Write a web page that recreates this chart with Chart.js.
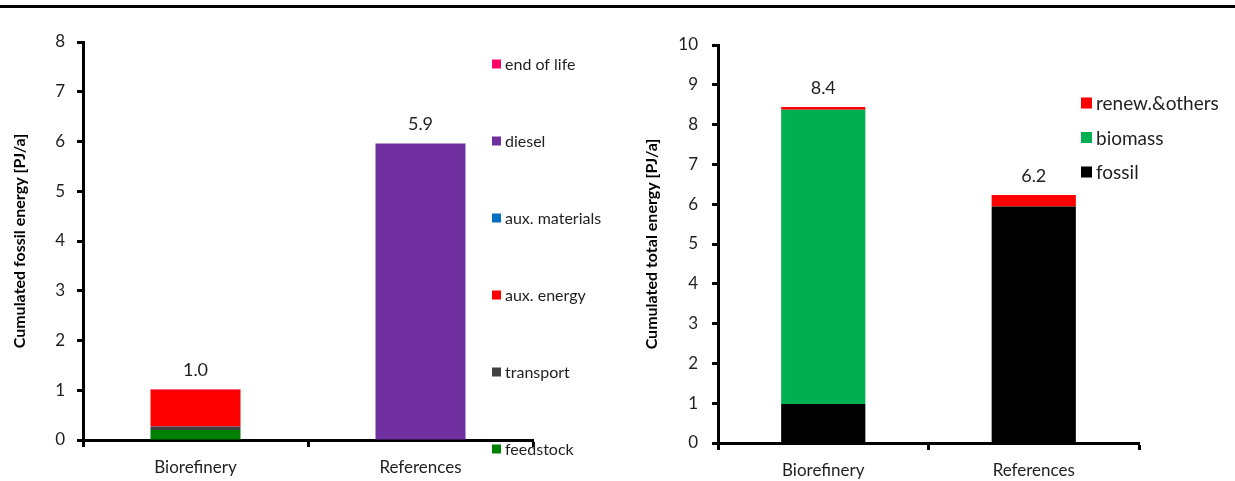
<!DOCTYPE html>
<html>
<head>
<meta charset="utf-8">
<script src="https://cdn.jsdelivr.net/npm/chart.js@4.4.1/dist/chart.umd.min.js"></script>
<style>
  body { margin: 0; background: #fff; width: 1235px; height: 481px; overflow: hidden; position: relative; }
  .rule { position: absolute; left: 0; top: 5px; width: 1235px; height: 3px; background: #000; }
  .box { position: absolute; top: 0; height: 481px; }
  #leftBox { left: 0; width: 620px; }
  #rightBox { left: 620px; width: 615px; }
</style>
</head>
<body>
<div class="rule"></div>
<div class="box" id="leftBox"><canvas id="fossilChart"></canvas></div>
<div class="box" id="rightBox"><canvas id="totalChart"></canvas></div>
<script>
const categories = ['Biorefinery', 'References'];

// left chart: cumulated fossil energy [PJ/a]
const feedstock = [0.20, 0];
const transport = [0.07, 0];
const auxEnergy = [0.74, 0];
const auxMaterials = [0, 0];
const diesel = [0, 5.96];
const endOfLife = [0.01, 0];
const fossilTotals = ['1.0', '5.9'];
const fossilTicks = [0, 1, 2, 3, 4, 5, 6, 7, 8];

// right chart: cumulated total energy [PJ/a]
const fossil = [0.98, 5.94];
const biomass = [7.39, 0];
const renewOthers = [0.07, 0.29];
const totalTotals = ['8.4', '6.2'];
const totalTicks = [0, 1, 2, 3, 4, 5, 6, 7, 8, 9, 10];

const FONT = 'Lato, "Liberation Sans", sans-serif';
const TEXT = '#1f1f1f';

Chart.defaults.font.family = FONT;
Chart.defaults.color = TEXT;
Chart.defaults.animation = false;

// legend drawn at free positions, top item = last dataset
const sideLegend = {
    id: 'sideLegend',
    afterDraw(chart, args, opts) {
        const ctx = chart.ctx;
        const sets = chart.data.datasets.slice().reverse();
        ctx.save();
        ctx.font = opts.size + 'px ' + FONT;
        ctx.textBaseline = 'middle';
        ctx.textAlign = 'left';
        sets.forEach((ds, i) => {
            const y = opts.y + i * opts.gap;
            ctx.fillStyle = ds.backgroundColor;
            ctx.fillRect(opts.x, y - opts.box / 2, opts.box, opts.box);
            ctx.fillStyle = TEXT;
            ctx.fillText(ds.label, opts.x + opts.box + 4, y + 1);
        });
        ctx.restore();
    }
};

// total value above each stacked bar
const stackTotals = {
    id: 'stackTotals',
    afterDatasetsDraw(chart, args, opts) {
        const ctx = chart.ctx;
        const xs = chart.scales.x, ys = chart.scales.y;
        ctx.save();
        ctx.font = opts.size + 'px ' + FONT;
        ctx.fillStyle = TEXT;
        ctx.textAlign = 'center';
        ctx.textBaseline = 'bottom';
        chart.data.labels.forEach((lab, i) => {
            let sum = 0;
            chart.data.datasets.forEach(ds => { sum += ds.data[i]; });
            const x = xs.getPixelForValue(i);
            const y = ys.getPixelForValue(sum);
            ctx.fillText(opts.labels[i], x, y - 10);
        });
        ctx.restore();
    }
};

function makeOptions(cfg) {
    return {
        responsive: true,
        maintainAspectRatio: false,
        layout: { padding: { left: 0, top: cfg.top, right: cfg.right, bottom: 0 } },
        datasets: { bar: { categoryPercentage: 1, barPercentage: 0.4, borderWidth: 0 } },
        plugins: {
            legend: { display: false },
            tooltip: { enabled: false },
            sideLegend: cfg.legend,
            stackTotals: { labels: cfg.totals, size: 18 }
        },
        scales: {
            x: {
                stacked: true,
                afterFit: s => { s.height = cfg.xHeight; },
                border: { color: '#000', width: 3 },
                grid: { display: true, drawOnChartArea: false, drawTicks: true, tickLength: 7, tickWidth: 3, tickColor: '#000', offset: true },
                ticks: { padding: 10, font: { size: 17 }, color: TEXT }
            },
            y: {
                stacked: true,
                min: 0,
                max: cfg.ticks[cfg.ticks.length - 1],
                afterFit: s => { s.width = cfg.yWidth; },
                afterBuildTicks: s => { s.ticks = cfg.ticks.map(v => ({ value: v })); },
                border: { color: '#000', width: 3 },
                grid: { display: true, drawOnChartArea: false, drawTicks: true, tickLength: 6, tickWidth: 3, tickColor: '#000' },
                ticks: { padding: cfg.tickPad, font: { size: 17 }, color: TEXT },
                title: {
                    display: true,
                    text: cfg.title,
                    font: { size: 16, weight: 'bold' },
                    color: '#000',
                    padding: { top: cfg.titlePad, bottom: 0 }
                }
            }
        }
    };
}

new Chart(document.getElementById('fossilChart'), {
    type: 'bar',
    data: {
        labels: categories,
        datasets: [
            { label: 'feedstock', data: feedstock, backgroundColor: '#008000' },
            { label: 'transport', data: transport, backgroundColor: '#404040' },
            { label: 'aux. energy', data: auxEnergy, backgroundColor: '#ff0000' },
            { label: 'aux. materials', data: auxMaterials, backgroundColor: '#0070c0' },
            { label: 'diesel', data: diesel, backgroundColor: '#7030a0' },
            { label: 'end of life', data: endOfLife, backgroundColor: '#ff0066' }
        ]
    },
    options: makeOptions({
        top: 42, right: 87, xHeight: 41, yWidth: 83, tickPad: 12, titlePad: 10,
        ticks: fossilTicks, totals: fossilTotals,
        title: 'Cumulated fossil energy [PJ/a]',
        legend: { x: 492, y: 64, gap: 77, box: 9, size: 16 }
    }),
    plugins: [sideLegend, stackTotals]
});

new Chart(document.getElementById('totalChart'), {
    type: 'bar',
    data: {
        labels: categories,
        datasets: [
            { label: 'fossil', data: fossil, backgroundColor: '#000000' },
            { label: 'biomass', data: biomass, backgroundColor: '#00b050' },
            { label: 'renew.&others', data: renewOthers, backgroundColor: '#ff0000' }
        ]
    },
    options: makeOptions({
        top: 45, right: 96, xHeight: 38, yWidth: 98, tickPad: 14, titlePad: 22,
        ticks: totalTicks, totals: totalTotals,
        title: 'Cumulated total energy [PJ/a]',
        legend: { x: 461, y: 103, gap: 34.5, box: 11, size: 19 }
    }),
    plugins: [sideLegend, stackTotals]
});
</script>
</body>
</html>
